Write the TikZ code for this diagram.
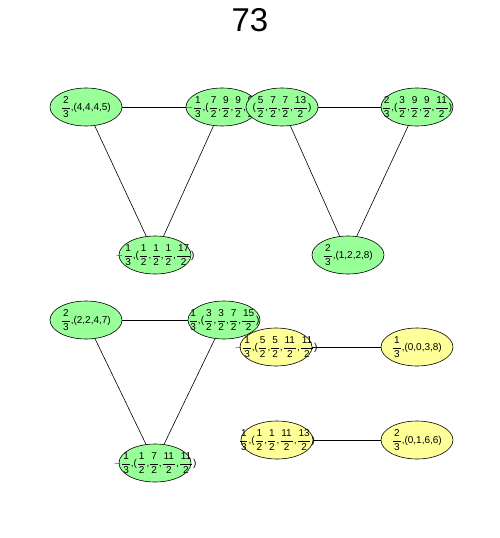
\documentclass[tikz,border=0pt]{standalone}
\usepackage{amsmath}
\usepackage{fontspec}
\setmainfont{Liberation Sans}
\usetikzlibrary{shapes.geometric}
\newcommand\fr[2]{$\dfrac{\hspace{0.8pt}\text{#1}\hspace{0.8pt}}{\hspace{0.8pt}\text{#2}\hspace{0.8pt}}$}
\newcommand\mn{$-$}
\definecolor{gfill}{HTML}{99FF99}
\definecolor{yfill}{HTML}{FFFF99}
\tikzset{
  ell/.style={ellipse, draw=black, line width=0.6pt, minimum width=72pt, minimum height=38pt, inner sep=0pt},
  gn/.style={ell, fill=gfill},
  yn/.style={ell, fill=yfill},
  lab/.style={font=\fontsize{10}{11}\selectfont, inner sep=0pt},
  edge/.style={draw=black, line width=0.6pt}
}
\begin{document}
\begin{tikzpicture}[x=1pt,y=-1pt]
\useasboundingbox (0,0) rectangle (500,538);
\node[font=\fontsize{33}{38}\selectfont] (title) at (250,20) {73};
% nodes
\node[gn] (A) at (86,107) {};
\node[lab] at (A) {\fr{2}{3},(4,4,4,5)};
\node[gn] (B) at (222,107) {};
\node[lab] at (B) {\mn\fr{1}{3},(\fr{7}{2},\fr{9}{2},\fr{9}{2},\fr{9}{2})};
\node[gn] (C) at (282,107) {};
\node[lab] at (C) {(\fr{5}{2},\fr{7}{2},\fr{7}{2},\fr{13}{2})};
\node[gn] (D) at (417,107) {};
\node[lab] at (D) {\fr{2}{3},(\fr{3}{2},\fr{9}{2},\fr{9}{2},\fr{11}{2})};
\node[gn] (E) at (155,255) {};
\node[lab] at (E) {\mn\fr{1}{3},(\fr{1}{2},\fr{1}{2},\fr{1}{2},\fr{17}{2})};
\node[gn] (F) at (348,255) {};
\node[lab] at (F) {\fr{2}{3},(1,2,2,8)};
\node[gn] (G) at (86,320) {};
\node[lab] at (G) {\fr{2}{3},(2,2,4,7)};
\node[gn] (H) at (224,320) {};
\node[lab] at (H) {\fr{1}{3},(\fr{3}{2},\fr{3}{2},\fr{7}{2},\fr{15}{2})};
\node[gn] (L) at (155,463) {};
\node[lab] at (L) {\mn\fr{1}{3},(\fr{1}{2},\fr{7}{2},\fr{11}{2},\fr{11}{2})};
\node[yn] (I) at (276,347) {};
\node[lab] at (I) {\mn\fr{1}{3},(\fr{5}{2},\fr{5}{2},\fr{11}{2},\fr{11}{2})};
\node[yn] (J) at (417,347) {};
\node[lab] at (J) {\fr{1}{3},(0,0,3,8)};
\node[yn] (K) at (277,440) {};
\node[lab] at (K) {\fr{1}{3},(\fr{1}{2},\fr{1}{2},\fr{11}{2},\fr{13}{2})};
\node[yn] (M) at (417,440) {};
\node[lab] at (M) {\fr{2}{3},(0,1,6,6)};
% edges
\draw[edge] (A) -- (B);
\draw[edge] (A) -- (E);
\draw[edge] (B) -- (E);
\draw[edge] (C) -- (D);
\draw[edge] (C) -- (F);
\draw[edge] (D) -- (F);
\draw[edge] (G) -- (H);
\draw[edge] (G) -- (L);
\draw[edge] (H) -- (L);
\draw[edge] (I) -- (J);
\draw[edge] (K) -- (M);
\end{tikzpicture}
\end{document}
